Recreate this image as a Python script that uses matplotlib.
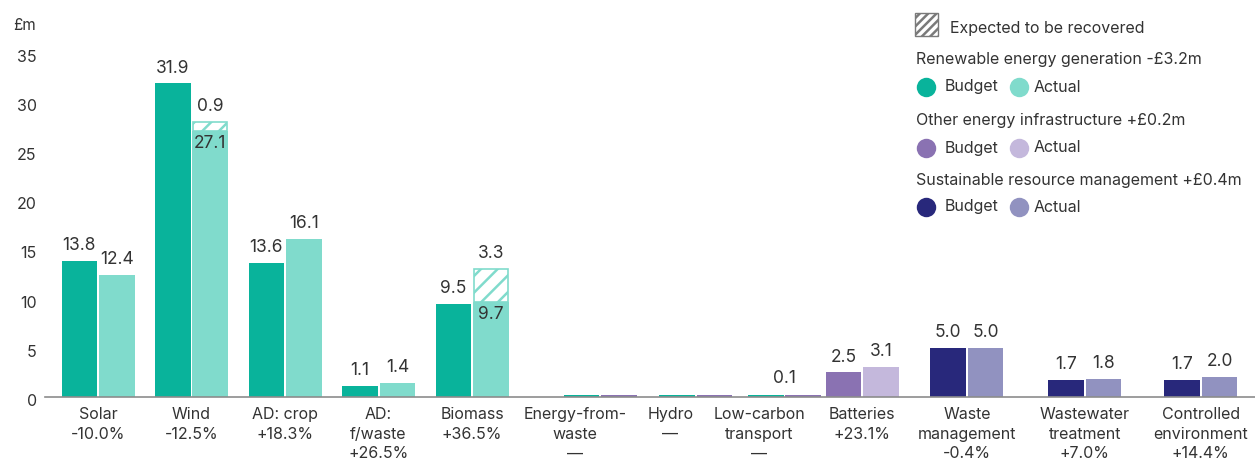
import matplotlib
matplotlib.use("Agg")
import matplotlib.pyplot as plt
from matplotlib.patches import Rectangle
from matplotlib.lines import Line2D
from matplotlib.transforms import ScaledTranslation

# ---- data (£m) ----
categories = ["Solar", "Wind", "AD: crop", "AD:\nf/waste", "Biomass",
              "Energy-from-\nwaste", "Hydro", "Low-carbon\ntransport",
              "Batteries", "Waste\nmanagement", "Wastewater\ntreatment",
              "Controlled\nenvironment"]
changes = ["-10.0%", "-12.5%", "+18.3%", "+26.5%", "+36.5%", "—", "—", "—",
           "+23.1%", "-0.4%", "+7.0%", "+14.4%"]
budget = [13.8, 31.9, 13.6, 1.1, 9.5, 0.0, 0.0, 0.0, 2.5, 5.0, 1.7, 1.7]
actual = [12.4, 27.1, 16.1, 1.4, 9.7, 0.0, 0.0, 0.1, 3.1, 5.0, 1.8, 2.0]
recoverable = [0, 0.9, 0, 0, 3.3, 0, 0, 0, 0, 0, 0, 0]
sector = ["ren"] * 5 + ["oth"] * 4 + ["srm"] * 3

sector_titles = {"ren": "Renewable energy generation -£3.2m",
                 "oth": "Other energy infrastructure +£0.2m",
                 "srm": "Sustainable resource management +£0.4m"}

# ---- style ----
FONT = ["Inter", "DejaVu Sans"]
plt.rcParams["font.family"] = FONT
plt.rcParams["hatch.linewidth"] = 1.8
TXT = "#333333"
colours = {"ren": ("#09b39b", "#80dbcc"),
           "oth": ("#8a72b2", "#c4b8dc"),
           "srm": ("#28287b", "#9192c0")}
stub_colours = ("#09b39b", "#8a72b2")

# category slot centres along the x axis (layout only)
slots = [0, 1, 2, 3, 4, 5.10, 6.12, 7.07, 8.17, 9.29, 10.55, 11.79]
bw = 0.38
off = 0.2
stub = 0.25
stub_shift = 0.27

fig = plt.figure(figsize=(12.55, 4.66), dpi=100)
ax = fig.add_axes([45 / 1255, 0.148, 1 - 45 / 1255, 0.770])
ax.set_xlim(-0.567, 12.37)
ax.set_ylim(0, 36.5)

lab_kw = dict(ha="center", fontsize=12.5, color=TXT)

for i, s in enumerate(sector):
    x = slots[i]
    cb, ca = colours[s]
    b, a, r = budget[i], actual[i], recoverable[i]
    if b == 0 and a <= 0.1:
        # empty categories shown as thin stubs on the baseline
        xs = x + stub_shift
        ax.bar(xs - off, stub, bw, color=stub_colours[0], linewidth=0)
        ax.bar(xs + off, stub, bw, color=stub_colours[1], linewidth=0)
        if a > 0:
            ax.text(xs, stub + 0.8, f"{a:.1f}", va="bottom", **lab_kw)
        continue
    ax.bar(x - off, b, bw, color=cb, linewidth=0)
    ax.bar(x + off, a, bw, color=ca, linewidth=0)
    ax.text(x - off, b + 0.7, f"{b:.1f}", va="bottom", **lab_kw)
    if r > 0:
        ax.bar(x + off, r, bw * 0.96, bottom=a, facecolor="white",
               edgecolor=ca, hatch="//", linewidth=1.2)
        ax.text(x + off, a - 0.4, f"{a:.1f}", va="top", **lab_kw)
        ax.text(x + off, a + r + 0.7, f"{r:.1f}", va="bottom", **lab_kw)
    else:
        ax.text(x + off, a + 0.7, f"{a:.1f}", va="bottom", **lab_kw)

# axes styling
for side in ("left", "right", "top"):
    ax.spines[side].set_visible(False)
ax.spines["bottom"].set_color("#8c8c8c")
ax.spines["bottom"].set_linewidth(1.2)
ax.set_yticks(range(0, 36, 5))
ax.tick_params(axis="y", length=0, pad=6, labelsize=11.5, labelcolor=TXT)
nudge = ScaledTranslation(0, -2 / 72, fig.dpi_scale_trans)
for lbl in ax.get_yticklabels():
    lbl.set_transform(lbl.get_transform() + nudge)
ax.set_xticks(slots)
ax.set_xticklabels([f"{c}\n{p}" for c, p in zip(categories, changes)],
                   fontsize=11.5, color=TXT, linespacing=1.4)
ax.tick_params(axis="x", length=0, pad=7)

fig.text(13 / 1255, 1 - 25 / 466, "£m", fontsize=11, color=TXT,
         ha="left", va="center")

# ---- legend ----
def fx(px):
    return px / 1255

def fy(py):
    return 1 - py / 466

fig.add_artist(Rectangle((fx(915), fy(36)), 23 / 1255, 23 / 466,
                         transform=fig.transFigure, facecolor="white",
                         edgecolor="#7a7a7a", hatch="////", linewidth=1.0))
fig.text(fx(950), fy(28), "Expected to be recovered", fontsize=11.5,
         color=TXT, va="center", ha="left")

rows = [("ren", 60, 87), ("oth", 120, 148), ("srm", 180, 207)]
for s, ty, my in rows:
    cb, ca = colours[s]
    fig.text(fx(916), fy(ty), sector_titles[s], fontsize=11.5, color=TXT,
             va="center", ha="left")
    for cx, tx, col, name in ((926, 945, cb, "Budget"), (1019, 1034, ca, "Actual")):
        fig.add_artist(Line2D([fx(cx)], [fy(my)], marker="o", markersize=14,
                              markerfacecolor=col, markeredgewidth=0,
                              linestyle="none", transform=fig.transFigure))
        fig.text(fx(tx), fy(my), name, fontsize=11.5, color=TXT,
                 va="center", ha="left")

fig.savefig("out.png", dpi=100, facecolor="white")
